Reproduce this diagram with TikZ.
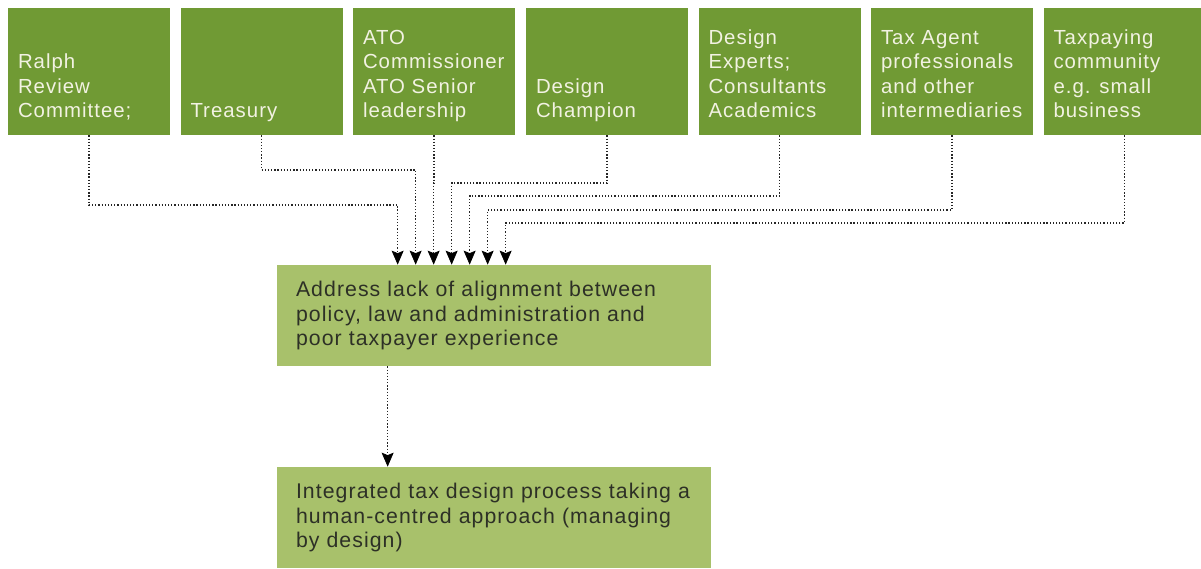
\documentclass[tikz,border=0pt]{standalone}
\usepackage{fontspec}
\setmainfont{Liberation Sans}[LetterSpace=5]
\usepackage{xcolor}
\usetikzlibrary{arrows.meta,positioning,calc}

\definecolor{leafgreen}{RGB}{112,154,52}
\definecolor{palegreen}{RGB}{168,193,107}
\definecolor{creamtext}{RGB}{242,242,226}
\definecolor{darktext}{RGB}{45,48,38}

\newcommand{\boxtext}[1]{\parbox[c][2cm][b]{2.84cm}{\raggedright #1\strut}}

\begin{document}
\begin{tikzpicture}[
    topbox/.style={fill=leafgreen,text=creamtext,inner sep=0pt,minimum width=3.24cm,minimum height=2.54cm,
      font=\fontsize{11.6pt}{13.9pt}\selectfont},
    lowbox/.style={fill=palegreen,text=darktext,align=left,text width=7.92cm,inner xsep=0.38cm,inner ysep=0pt,
      minimum height=2.02cm,font=\fontsize{12.1pt}{13.7pt}\selectfont},
    feed/.style={draw=black!85,line width=0.7pt,dash pattern=on 0.7pt off 1.1pt,
      -{Stealth[length=0.28cm,width=0.24cm,inset=0.05cm,color=black,fill=black,line width=0.4pt,sep=0pt]}}]
  \useasboundingbox (0,0) rectangle (24.02,11.36);

  % stakeholders
  \node[topbox] (ralph) at (1.78,9.93) {\boxtext{Ralph\\ Review\\ Committee;}};
  \node[topbox] (treasury) at (5.23,9.93) {\boxtext{Treasury}};
  \node[topbox] (ato) at (8.68,9.93) {\boxtext{ATO\\ Commissioner\\ ATO Senior\\ leadership}};
  \node[topbox] (champion) at (12.14,9.93) {\boxtext{Design\\ Champion}};
  \node[topbox] (experts) at (15.59,9.93) {\boxtext{Design\\ Experts;\\ Consultants\\ Academics}};
  \node[topbox] (agents) at (19.04,9.93) {\boxtext{Tax Agent\\ professionals\\ and other\\ intermediaries}};
  \node[topbox] (community) at (22.49,9.93) {\boxtext{Taxpaying\\ community\\ e.g. small\\ business}};

  % problem and response
  \node[lowbox] (addr) at (9.88,5.05) {Address lack of alignment between\\ policy, law and administration and\\ poor taxpayer experience};
  \node[lowbox] (integ) at (9.88,1.01) {Integrated tax design process taking a\\ human-centred approach (managing\\ by design)};

  \foreach \n/\h/\s in {ralph/7.26/2.42,treasury/7.96/2.78,ato/7.70/3.14,champion/7.70/3.50,
                        experts/7.44/3.86,agents/7.16/4.22,community/6.90/4.58}
    \draw[feed] (\n.south) -- (\n.south |- 0,\h) -| ([xshift=\s cm]addr.north west);

  \draw[feed] ([xshift=2.22cm]addr.south west) -- ([xshift=2.22cm]integ.north west);
\end{tikzpicture}
\end{document}
